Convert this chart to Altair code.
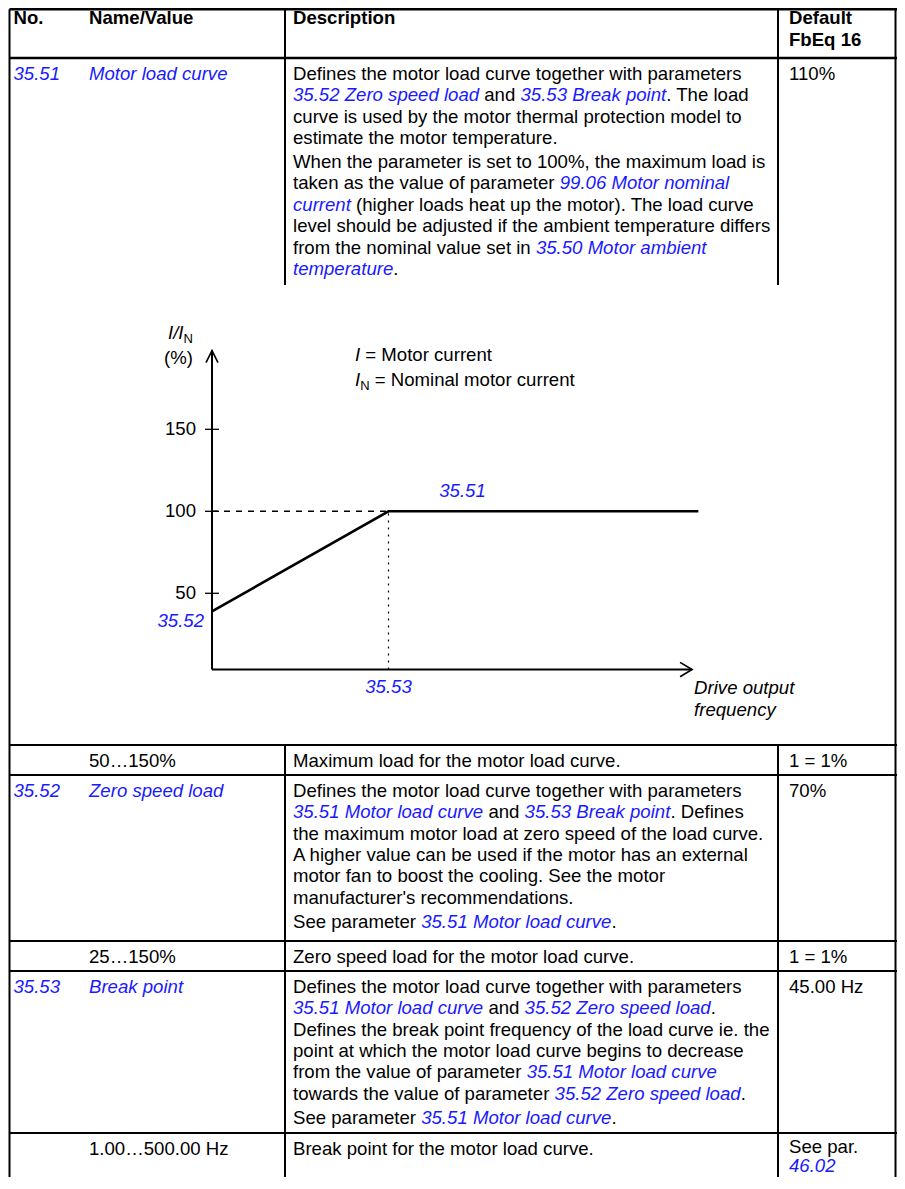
import altair as alt
import pandas as pd

# ---------------- content ----------------
HEADER_LINE_1 = ["No.", "Name/Value", "Description", "Default"]
HEADER_LINE_2 = ["", "", "", "FbEq 16"]

PARAM_NO = ["35.51", "", "35.52", "", "35.53", ""]
PARAM_NAME = ["Motor load curve", "50…150%", "Zero speed load", "25…150%",
              "Break point", "1.00…500.00 Hz"]
NAME_IS_LINK = [True, False, True, False, True, False]

# description: paragraphs -> lines -> (segment, is_link)
DESC_3551 = [
    [
        [("Defines the motor load curve together with parameters", 0)],
        [("35.52 Zero speed load", 1), (" and ", 0), ("35.53 Break point", 1), (". The load", 0)],
        [("curve is used by the motor thermal protection model to", 0)],
        [("estimate the motor temperature.", 0)],
    ],
    [
        [("When the parameter is set to 100%, the maximum load is", 0)],
        [("taken as the value of parameter ", 0), ("99.06 Motor nominal", 1)],
        [("current", 1), (" (higher loads heat up the motor). The load curve", 0)],
        [("level should be adjusted if the ambient temperature differs", 0)],
        [("from the nominal value set in ", 0), ("35.50 Motor ambient", 1)],
        [("temperature", 1), (".", 0)],
    ],
]
DESC_MAX = [[[("Maximum load for the motor load curve.", 0)]]]
DESC_3552 = [
    [
        [("Defines the motor load curve together with parameters", 0)],
        [("35.51 Motor load curve", 1), (" and ", 0), ("35.53 Break point", 1), (". Defines", 0)],
        [("the maximum motor load at zero speed of the load curve.", 0)],
        [("A higher value can be used if the motor has an external", 0)],
        [("motor fan to boost the cooling. See the motor", 0)],
        [("manufacturer's recommendations.", 0)],
    ],
    [
        [("See parameter ", 0), ("35.51 Motor load curve", 1), (".", 0)],
    ],
]
DESC_ZERO = [[[("Zero speed load for the motor load curve.", 0)]]]
DESC_3553 = [
    [
        [("Defines the motor load curve together with parameters", 0)],
        [("35.51 Motor load curve", 1), (" and ", 0), ("35.52 Zero speed load", 1), (".", 0)],
        [("Defines the break point frequency of the load curve ie. the", 0)],
        [("point at which the motor load curve begins to decrease", 0)],
        [("from the value of parameter ", 0), ("35.51 Motor load curve", 1)],
        [("towards the value of parameter ", 0), ("35.52 Zero speed load", 1), (".", 0)],
    ],
    [
        [("See parameter ", 0), ("35.51 Motor load curve", 1), (".", 0)],
    ],
]
DESC_BREAK = [[[("Break point for the motor load curve.", 0)]]]
DESCRIPTIONS = [DESC_3551, DESC_MAX, DESC_3552, DESC_ZERO, DESC_3553, DESC_BREAK]

DEFAULTS = [
    [[[("110%", 0)]]],
    [[[("1 = 1%", 0)]]],
    [[[("70%", 0)]]],
    [[[("1 = 1%", 0)]]],
    [[[("45.00 Hz", 0)]]],
    [[[("See par.", 0)], [("46.02", 1)]]],
]

# embedded motor load curve diagram
CURVE_FREQ = [0, 45, 124]
CURVE_LOAD = [39, 100, 100]
Y_TICKS = [50, 100, 150]
Y_TICK_LABELS = ["50", "100", "150"]
BREAK_FREQ = 45
BREAK_LOAD = 100
FREQ_AXIS_END = 122.4
LOAD_AXIS_MIN = 3.5
LOAD_AXIS_END = 198
LABEL_ZERO_SPEED = "35.52"
LABEL_CURVE = "35.51"
LABEL_BREAK = "35.53"
X_TITLE = ["Drive output", "frequency"]
Y_TITLE = [("I/I", "ital"), ("N", "sub")]
Y_UNIT = "(%)"
LEGEND_1 = [("I", "ital"), (" = Motor current", "body")]
LEGEND_2 = [("I", "ital"), ("N", "sub"), (" = Nominal motor current", "body")]

# ---------------- layout / style ----------------
PLOT_W, PLOT_H = 889, 1169          # keeps the page inside the 905x1189 window
X_LO = 8                             # reference x shown at the left edge of the svg
Y_LO = 10                            # reference y shown at the top edge of the svg
X_HI, Y_HI = X_LO + PLOT_W, Y_LO + PLOT_H
FS = 18.6
SUB_FS = 13
FONT = "Liberation Sans"
BLUE = "#1a1aff"
COL_X = [13.5, 89, 293, 789]
HEAD_Y = [19.6, 42.2]
ROW_TOP = [60, 747, 777, 943, 973, 1135]
FIRST = 15.8
LEAD = 21.4
PGAP = 2.5
LAST_CELL_FIRST, LAST_CELL_LEAD = 13.6, 19.4   # last (page-cut) default cell
TOP_Y = Y_LO + 1.3
LEFT_X = X_LO + 1.5
RIGHT_X = X_HI - 1.5
H_RULES = [(TOP_Y, LEFT_X, X_HI, 2.6), (60, LEFT_X, X_HI, 2.5), (747, LEFT_X, X_HI, 2),
           (777, LEFT_X, X_HI, 2), (943, LEFT_X, X_HI, 2), (973, LEFT_X, X_HI, 2),
           (1135, LEFT_X, X_HI, 2)]
V_RULES = [(LEFT_X, TOP_Y, Y_HI, 2), (285, TOP_Y, 287, 2), (285, 747, Y_HI, 2),
           (778, TOP_Y, 287, 2), (778, 747, Y_HI, 2), (RIGHT_X, TOP_Y, Y_HI, 2)]
# diagram placement on the page (reference pixels)
CH_X0, CH_XB = 212, 388.5       # x of freq 0 and of the break point
CH_Y50, CH_Y100 = 595.3, 513.3  # y of 50 % and 100 %

STY = {
    "body": dict(color="black"),
    "link": dict(color=BLUE, fontStyle="italic"),
    "ital": dict(color="black", fontStyle="italic"),
    "bold": dict(color="black", fontWeight="bold"),
    "sub": dict(color="black"),
}

# Helvetica/Arial advance widths (1/1000 em) for placing inline segments
HELV = {}
for chars, w in [(" !,./:;I[\\]ft", 278), ("ijl", 222), ("'", 191), ("()-`r", 333),
                 ('"', 355), ("*", 389), ("^", 469), ("Jckvsxyz", 500),
                 ("#$0123456789?L_abdeghnopqu", 556), ("+<=>~", 584), ("FTZ", 611),
                 ("&ABEKPSVXY", 667), ("CDHNRUw", 722), ("GOQ", 778), ("Mm", 833),
                 ("%", 889), ("W", 944), ("…", 1000), ("@", 1015), ("|", 260), ("{}", 334)]:
    for ch in chars:
        HELV[ch] = w


def tw(s, size=FS):
    return sum(HELV.get(ch, 556) for ch in s) * size / 1000.0


def layout_line(segs, x0, y, size=FS):
    out, cur = [], x0
    for s, link in segs:
        lead = len(s) - len(s.lstrip(" "))
        t = s.strip(" ")
        if t:
            out.append(dict(x=cur + tw(s[:lead], size), y=y, t=t, link=int(link)))
        cur += tw(s, size)
    return out


def layout_block(paras, x0, ytop, first=FIRST, lead=LEAD):
    y = ytop + first
    items = []
    for pi, para in enumerate(paras):
        if pi > 0:
            y += PGAP
        for line in para:
            items += layout_line(line, x0, y)
            y += lead
    return items


# ---------------- page (table) scales ----------------
def px(f):
    return alt.X(f"{f}:Q", scale=alt.Scale(domain=[X_LO, X_HI], nice=False, zero=False), axis=None)


def py(f):
    return alt.Y(f"{f}:Q", scale=alt.Scale(domain=[Y_LO, Y_HI], reverse=True, nice=False,
                                           zero=False), axis=None)


def page_text(items, style, size=FS):
    df = pd.DataFrame(items)
    return alt.Chart(df).mark_text(align="left", baseline="middle", font=FONT,
                                   fontSize=size, **STY[style]).encode(
        x=px("x"), y=py("y"), text="t:N")


plain, links, bold = [], [], []
for i, h in enumerate(HEADER_LINE_1):
    bold.append(dict(x=COL_X[i], y=HEAD_Y[0], t=h))
    if HEADER_LINE_2[i]:
        bold.append(dict(x=COL_X[i], y=HEAD_Y[1], t=HEADER_LINE_2[i]))

for r, top in enumerate(ROW_TOP):
    items = []
    if PARAM_NO[r]:
        items += layout_block([[[(PARAM_NO[r], 1)]]], COL_X[0], top)
    items += layout_block([[[(PARAM_NAME[r], int(NAME_IS_LINK[r]))]]], COL_X[1], top)
    items += layout_block(DESCRIPTIONS[r], COL_X[2], top)
    if r == len(ROW_TOP) - 1:
        items += layout_block(DEFAULTS[r], COL_X[3], top, LAST_CELL_FIRST, LAST_CELL_LEAD)
    else:
        items += layout_block(DEFAULTS[r], COL_X[3], top)
    for it in items:
        (links if it["link"] else plain).append(it)

rules = [dict(x=x1, x2=x2, y=y, y2=y, w=w) for (y, x1, x2, w) in H_RULES] + \
        [dict(x=x, x2=x, y=y1, y2=y2, w=w) for (x, y1, y2, w) in V_RULES]
rule_layer = alt.Chart(pd.DataFrame(rules)).mark_rule(color="black").encode(
    x=px("x"), x2=alt.X2("x2:Q"), y=py("y"), y2=alt.Y2("y2:Q"),
    strokeWidth=alt.StrokeWidth("w:Q", scale=None, legend=None))

table_group = alt.layer(
    rule_layer,
    page_text(plain, "body"),
    page_text(links, "link"),
    page_text(bold, "bold"),
)


# ---------------- diagram scales ----------------
def cx(f):
    return alt.X(f"{f}:Q", scale=alt.Scale(domain=[0, BREAK_FREQ],
                                           range=[CH_X0 - X_LO, CH_XB - X_LO],
                                           nice=False, zero=False), axis=None)


def cy(f):
    return alt.Y(f"{f}:Q", scale=alt.Scale(domain=[Y_TICKS[0], Y_TICKS[1]],
                                           range=[CH_Y50 - Y_LO, CH_Y100 - Y_LO],
                                           nice=False, zero=False), axis=None)


def chart_text(text, xv, yv, dx, dy, style, align="left", size=FS):
    df = pd.DataFrame({"x": [xv], "y": [yv], "t": [text]})
    return alt.Chart(df).mark_text(align=align, baseline="middle", font=FONT, fontSize=size,
                                   dx=dx, dy=dy, **STY[style]).encode(
        x=cx("x"), y=cy("y"), text="t:N")


axes_df = pd.DataFrame({
    "x": [0, 0], "x2": [0, FREQ_AXIS_END],
    "y": [LOAD_AXIS_MIN, LOAD_AXIS_MIN], "y2": [LOAD_AXIS_END, LOAD_AXIS_MIN]})
axes_layer = alt.Chart(axes_df).mark_rule(color="black", strokeWidth=2).encode(
    x=cx("x"), x2=alt.X2("x2:Q"), y=cy("y"), y2=alt.Y2("y2:Q"))

arrow_up = alt.Chart(pd.DataFrame({"x": [0], "y": [LOAD_AXIS_END]})).mark_point(
    shape="M -0.5 1 L 0 0 L 0.5 1", size=576, filled=False, strokeWidth=1.6,
    color="black", opacity=1).encode(x=cx("x"), y=cy("y"))
arrow_right = alt.Chart(pd.DataFrame({"x": [FREQ_AXIS_END], "y": [LOAD_AXIS_MIN]})).mark_point(
    shape="M -1 -0.6 L 0 0 L -1 0.6", size=576, filled=False, strokeWidth=1.6,
    color="black", opacity=1).encode(x=cx("x"), y=cy("y"))

ticks_df = pd.DataFrame({"x": [0] * len(Y_TICKS), "y": Y_TICKS, "t": Y_TICK_LABELS})
tick_layer = alt.Chart(ticks_df).mark_tick(orient="horizontal", size=14, thickness=1.3,
                                           color="black", opacity=1).encode(
    x=cx("x"), y=cy("y"))
tick_labels = alt.Chart(ticks_df).mark_text(align="right", baseline="middle", font=FONT,
                                            fontSize=FS, dx=-16, color="black").encode(
    x=cx("x"), y=cy("y"), text="t:N")

dash_df = pd.DataFrame({"x": [0], "x2": [BREAK_FREQ], "y": [BREAK_LOAD]})
dash_layer = alt.Chart(dash_df).mark_rule(color="black", strokeWidth=1.5,
                                          strokeDash=[6, 6]).encode(
    x=cx("x"), x2=alt.X2("x2:Q"), y=cy("y"))
dot_df = pd.DataFrame({"x": [BREAK_FREQ], "y": [LOAD_AXIS_MIN], "y2": [BREAK_LOAD]})
dot_layer = alt.Chart(dot_df).mark_rule(color="black", strokeWidth=1.2,
                                        strokeDash=[2, 5]).encode(
    x=cx("x"), y=cy("y"), y2=alt.Y2("y2:Q"))

curve_df = pd.DataFrame({"f": CURVE_FREQ, "l": CURVE_LOAD})
curve_layer = alt.Chart(curve_df).mark_line(color="black", strokeWidth=2.6).encode(
    x=cx("f"), y=cy("l"))

labels = [
    chart_text(LABEL_ZERO_SPEED, 0, CURVE_LOAD[0], -8, 9.5, "link", align="right"),
    chart_text(LABEL_CURVE, BREAK_FREQ, BREAK_LOAD, 74, -20.6, "link", align="center"),
    chart_text(LABEL_BREAK, BREAK_FREQ, LOAD_AXIS_MIN, 0, 17.5, "link", align="center"),
    chart_text(X_TITLE[0], FREQ_AXIS_END, LOAD_AXIS_MIN, 2, 18.3, "ital"),
    chart_text(X_TITLE[1], FREQ_AXIS_END, LOAD_AXIS_MIN, 2, 40, "ital"),
    chart_text(Y_UNIT, 0, LOAD_AXIS_END, -48, 7, "body"),
]
cur = -44
for seg, st in Y_TITLE:
    size = SUB_FS if st == "sub" else FS
    dy = -12 if st == "sub" else -18
    labels.append(chart_text(seg, 0, LOAD_AXIS_END, cur, dy, st, size=size))
    cur += tw(seg, size)
for line, dy0 in [(LEGEND_1, 4), (LEGEND_2, 29)]:
    cur = 143
    for seg, st in line:
        size = SUB_FS if st == "sub" else FS
        lead = len(seg) - len(seg.lstrip(" "))
        dy = dy0 + 6 if st == "sub" else dy0
        labels.append(chart_text(seg.strip(" "), 0, LOAD_AXIS_END, cur + tw(seg[:lead], size),
                                 dy, st, size=size))
        cur += tw(seg, size)

chart_group = alt.layer(axes_layer, arrow_up, arrow_right, tick_layer, tick_labels,
                        dash_layer, dot_layer, curve_layer, *labels)

chart = alt.layer(table_group, chart_group).resolve_scale(
    x="independent", y="independent"
).properties(
    width=PLOT_W, height=PLOT_H, padding=0,
    autosize=alt.AutoSizeParams(type="none"),
).configure_view(stroke=None)

chart.save("out.html", embed_options={"renderer": "svg", "actions": False})
